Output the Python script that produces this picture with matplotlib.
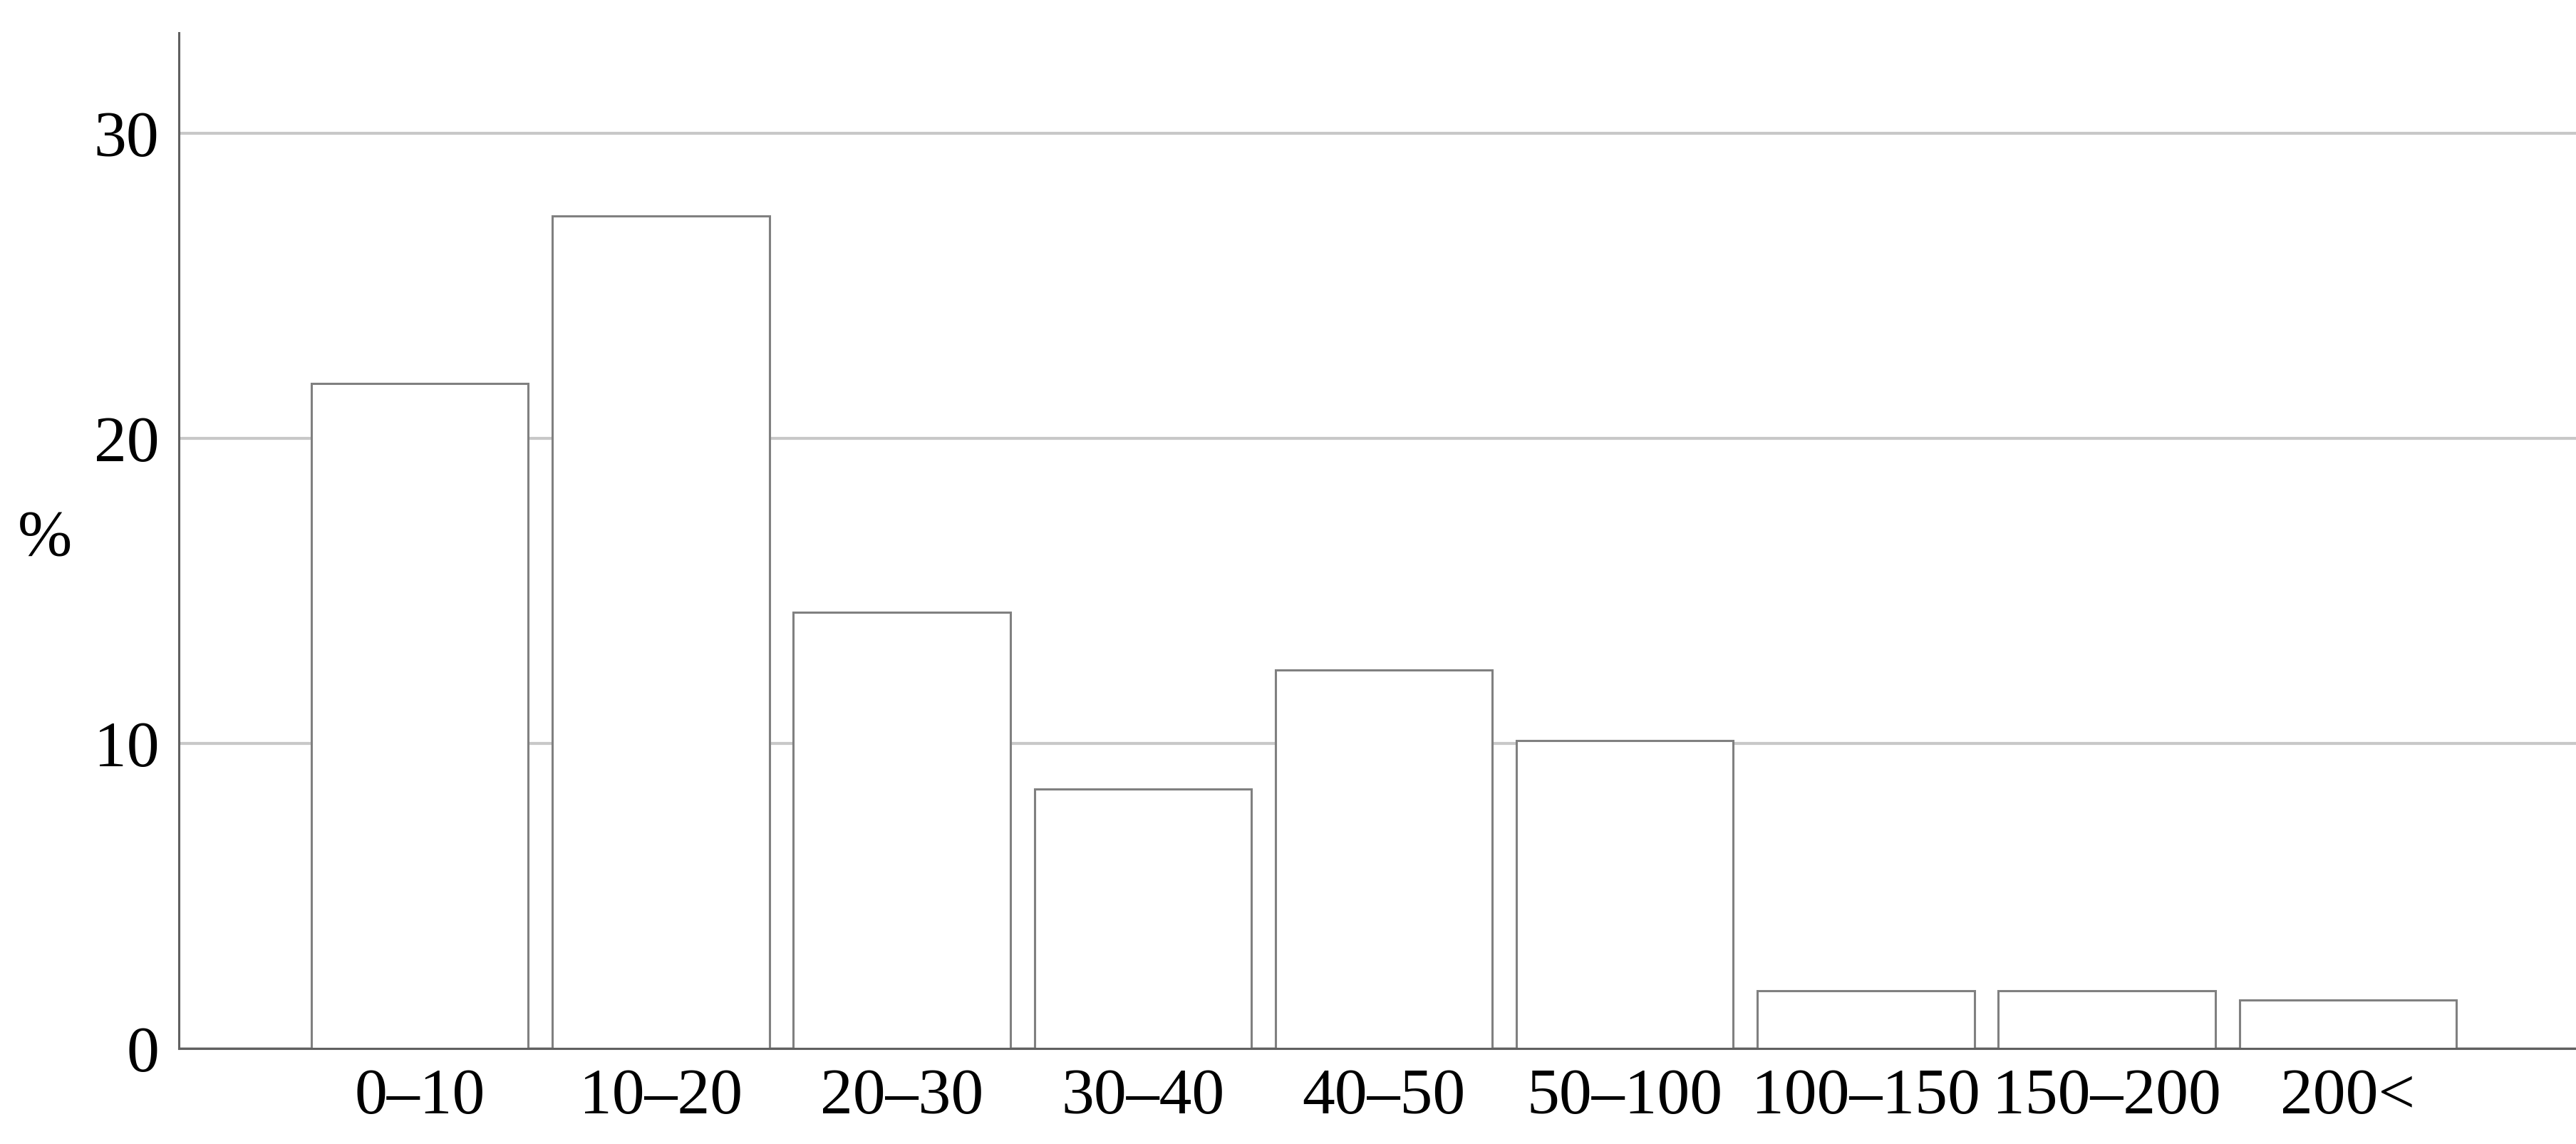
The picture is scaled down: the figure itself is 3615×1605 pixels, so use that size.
import matplotlib.pyplot as plt

# Share of items per size class (%)
size_classes = ['0–10', '10–20', '20–30', '30–40', '40–50', '50–100', '100–150', '150–200', '200<']
share_pct = [21.8, 27.3, 14.3, 8.5, 12.4, 10.1, 1.9, 1.9, 1.6]
y_ticks = [0, 10, 20, 30]

plt.rcParams['font.family'] = ['Liberation Serif', 'DejaVu Serif']

fig = plt.figure(figsize=(18.08, 8.025), dpi=200)
ax = fig.add_axes([0.0694, 0.0835, 0.9306, 0.8878])

ax.bar(size_classes, share_pct, width=0.9, color='white', edgecolor='#808080',
       linewidth=1.1, zorder=3)

ax.set_xlim(-1, 8.95)
ax.set_ylim(0, 33.3)
ax.set_yticks(y_ticks)
ax.yaxis.grid(True, color='#c8c8c8', linewidth=1.5, zorder=0)
ax.set_axisbelow(True)

for side in ['top', 'right']:
    ax.spines[side].set_visible(False)
for side in ['left', 'bottom']:
    ax.spines[side].set_color('#606060')
    ax.spines[side].set_linewidth(1.1)
    ax.spines[side].set_zorder(4)

ax.tick_params(axis='both', length=0, labelsize=33, colors='black')
ax.tick_params(axis='y', pad=10)
ax.tick_params(axis='x', pad=10)

# the "%" label sits horizontally, left of the tick labels
ax.set_ylabel('%', fontsize=33, rotation=0, labelpad=0)
ax.yaxis.set_label_coords(-0.056, 0.472)

fig.savefig('out.png', dpi=200, facecolor='white')
